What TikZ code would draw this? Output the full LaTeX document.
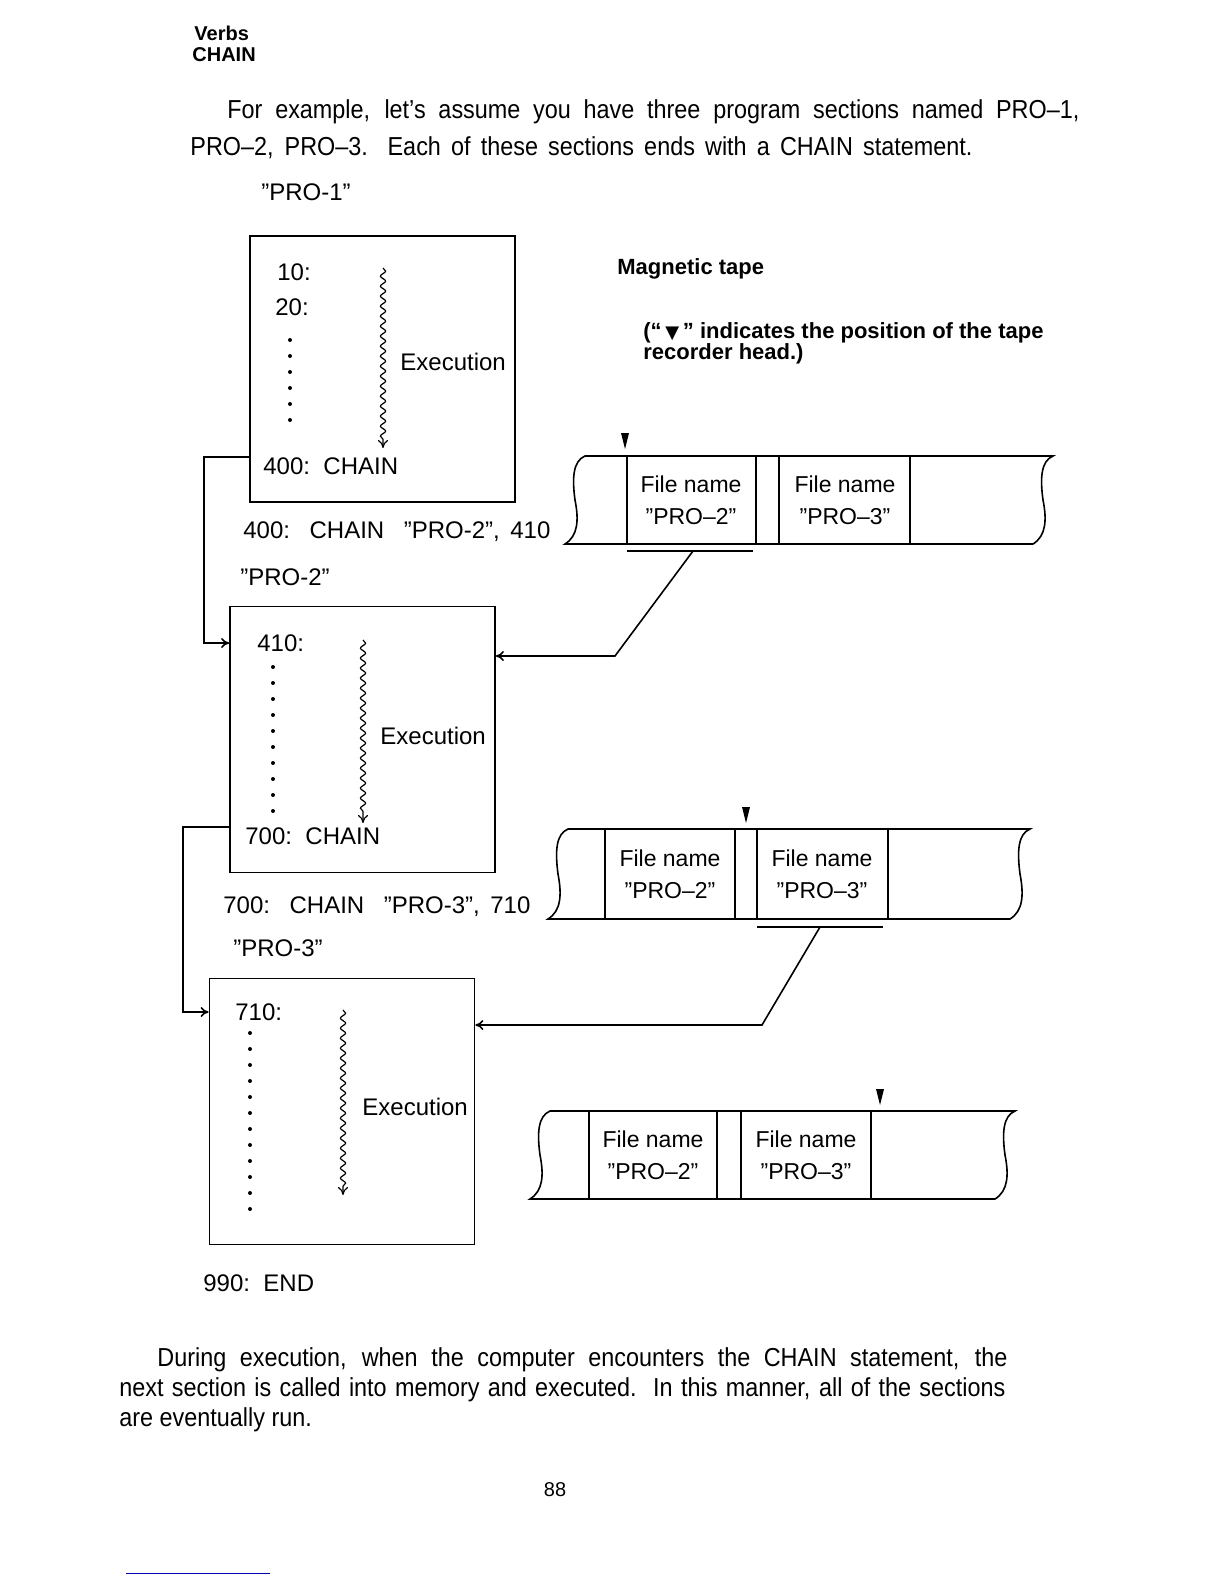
\documentclass[tikz,border=0pt]{standalone}
\usepackage{fontspec}
\setmainfont{Liberation Sans}[Ligatures=TeX]
\newfontfamily\bodyfont{Liberation Sans}[FakeStretch=0.9,Ligatures=TeX]
\newfontfamily\symfont{DejaVu Sans}
\usepackage{tikz}
\usetikzlibrary{arrows.meta, positioning, decorations.pathmorphing}

\begin{document}
\begin{tikzpicture}[x=0.5pt, y=-0.5pt, >={To[length=4pt,width=5pt]},
  progbox/.style={draw, line width=0.9pt, minimum width=132.5pt, minimum height=133pt, inner sep=0pt},
  lbl/.style={anchor=west, inner sep=0pt, font=\fontsize{12pt}{14pt}\selectfont},
  hdr/.style={anchor=west, inner sep=0pt, font=\bfseries\fontsize{10pt}{12pt}\selectfont},
  body/.style={anchor=west, inner sep=0pt, font=\bodyfont\fontsize{13pt}{15pt}\selectfont},
  capt/.style={anchor=west, inner sep=0pt, font=\bfseries\fontsize{11pt}{13pt}\selectfont},
  fname/.style={align=center, inner sep=0pt, font=\fontsize{11.5pt}{16pt}\selectfont},
  wire/.style={line width=0.8pt},
  tapeline/.style={line width=0.8pt},
  flow/.style={line width=0.6pt, decorate, decoration={snake, amplitude=1.3pt, segment length=5pt, post length=4pt}, ->},
  headmark/.style={fill=black}
]
  \fill[white] (0,0) rectangle (1224,1584);
  \useasboundingbox (0,0) rectangle (1224,1584);

  % ======= page text =======
  \node[hdr] (hverb) at (194,33) {Verbs};
  \node[hdr] (hchain) at (192,55) {CHAIN};
  \node[body] (para1) at (227,112) {\makebox[426pt][s]{For example, let's assume you have three program sections named PRO--1,}};
  \node[body] (para2) at (190,148) {\makebox[391pt][s]{PRO--2, PRO--3. Each of these sections ends with a CHAIN statement.}};

  % ======= PRO-1 =======
  \node[lbl] (n1) at (261,192) {''PRO-1''};
  \node[progbox] (box1) at (382.5,369) {};
  \node[lbl] (l10) at (277,272) {10:};
  \node[lbl] (l20) at (275,307) {20:};
  \foreach \y in {340,356,...,420} \fill (290,\y) circle (1pt);
  \draw[flow] (383,268) -- (383,448);
  \node[lbl] (ex1) at (400,362) {Execution};
  \node[lbl] (c400) at (263,466) {400:\ \ CHAIN};
  \node[lbl] (s400) at (243,532) {\makebox[153.5pt][s]{400:\ \ CHAIN\ \ ''PRO-2'', 410}};

  % ======= PRO-2 =======
  \node[lbl] (n2) at (240,577) {''PRO-2''};
  \node[progbox] (box2) at (362.5,739.5) {};
  \node[lbl] (l410) at (257,643) {410:};
  \foreach \y in {667,683,...,811} \fill (273,\y) circle (1pt);
  \draw[flow] (363,640) -- (363,823);
  \node[lbl] (ex2) at (380,736) {Execution};
  \node[lbl] (c700) at (245,836) {700:\ \ CHAIN};
  \node[lbl] (s700) at (223,907) {\makebox[153.5pt][s]{700:\ \ CHAIN\ \ ''PRO-3'', 710}};

  % ======= PRO-3 =======
  \node[lbl] (n3) at (233,948) {''PRO-3''};
  \node[progbox] (box3) at (342,1111.5) {};
  \node[lbl] (l710) at (235,1012) {710:};
  \foreach \y in {1033,1049,...,1209} \fill (250,\y) circle (1pt);
  \draw[flow] (343,1010) -- (343,1195);
  \node[lbl] (ex3) at (362,1107) {Execution};
  \node[lbl] (c990) at (203,1283) {990:\ \ END};

  % chain jumps between sections
  \draw[wire,->] (box1.west |- c400.north) -- ++(-45,0) |- (box2.west |- l410);
  \draw[wire,->] (box2.west |- c700.north) -- ++(-46,0) |- (box3.west |- l710);

  % ======= magnetic tape =======
  \node[capt] (mt) at (617,269) {Magnetic tape};
  \node[capt] (mt2) at (643,333) {(``\,{\symfont\small ▼}\,'' indicates the position of the tape};
  \node[capt] (mt3) at (643,354) {recorder head.)};

  % tape outlines: left x, right x, top y, bottom y
  \foreach \lx/\rx/\ty/\by in {565/1033/456/544, 548/1010/829/919, 530/995/1111/1199}{
    \draw[tapeline] (\lx+20,\ty) -- (\rx+20,\ty)
      .. controls (\rx+8,\ty+5) and (\rx+7,\ty+22) .. (\rx+10,{(\ty+\by)/2})
      .. controls (\rx+14,\by-24) and (\rx+13,\by-8) .. (\rx,\by)
      -- (\lx,\by)
      .. controls (\lx+13,\by-8) and (\lx+14,\by-24) .. (\lx+10,{(\ty+\by)/2})
      .. controls (\lx+7,\ty+22) and (\lx+8,\ty+5) .. (\lx+20,\ty) -- cycle;
  }
  % cell borders
  \foreach \x in {627,756,779,910} \draw[tapeline] (\x,456) -- (\x,544);
  \foreach \x in {605,735,757,888} \draw[tapeline] (\x,829) -- (\x,919);
  \foreach \x in {589,717,741,871} \draw[tapeline] (\x,1111) -- (\x,1199);

  % file names
  \node[fname] (f12) at (691,500) {File name\\''PRO--2''};
  \node[fname] (f13) at (845,500) {File name\\''PRO--3''};
  \node[fname] (f22) at (670,874) {File name\\''PRO--2''};
  \node[fname] (f23) at (822,874) {File name\\''PRO--3''};
  \node[fname] (f32) at (653,1155) {File name\\''PRO--2''};
  \node[fname] (f33) at (806,1155) {File name\\''PRO--3''};

  % tape recorder heads
  \fill[headmark] (621,433) -- (629,433) -- (625,449) -- cycle;
  \fill[headmark] (742,807) -- (750,807) -- (746,823) -- cycle;
  \fill[headmark] (876,1089) -- (884,1089) -- (880,1105) -- cycle;

  % loaded section -> next box
  \coordinate (t1) at (693,551);
  \coordinate (k1) at (615,656);
  \draw[wire] (627,551) -- (753,551);
  \draw[wire,->] (t1) -- (k1) -- (k1 -| box2.east);
  \coordinate (t2) at (820,927);
  \coordinate (k2) at (762,1025);
  \draw[wire] (757,927) -- (883,927);
  \draw[wire,->] (t2) -- (k2) -- (k2 -| box3.east);

  % ======= closing text =======
  \node[body] (para3) at (157,1360) {\makebox[425pt][s]{During execution, when the computer encounters the CHAIN statement, the}};
  \node[body] (para4) at (119,1390) {\makebox[443pt][s]{next section is called into memory and executed.\ \ In this manner, all of the sections}};
  \node[body] (para5) at (119,1420) {are eventually run.};
  \node[inner sep=0pt, font=\fontsize{10pt}{12pt}\selectfont] (pgno) at (555,1490) {88};
  \draw[blue!70!black, line width=0.5pt] (126,1573) -- (270,1573);
\end{tikzpicture}
\end{document}
